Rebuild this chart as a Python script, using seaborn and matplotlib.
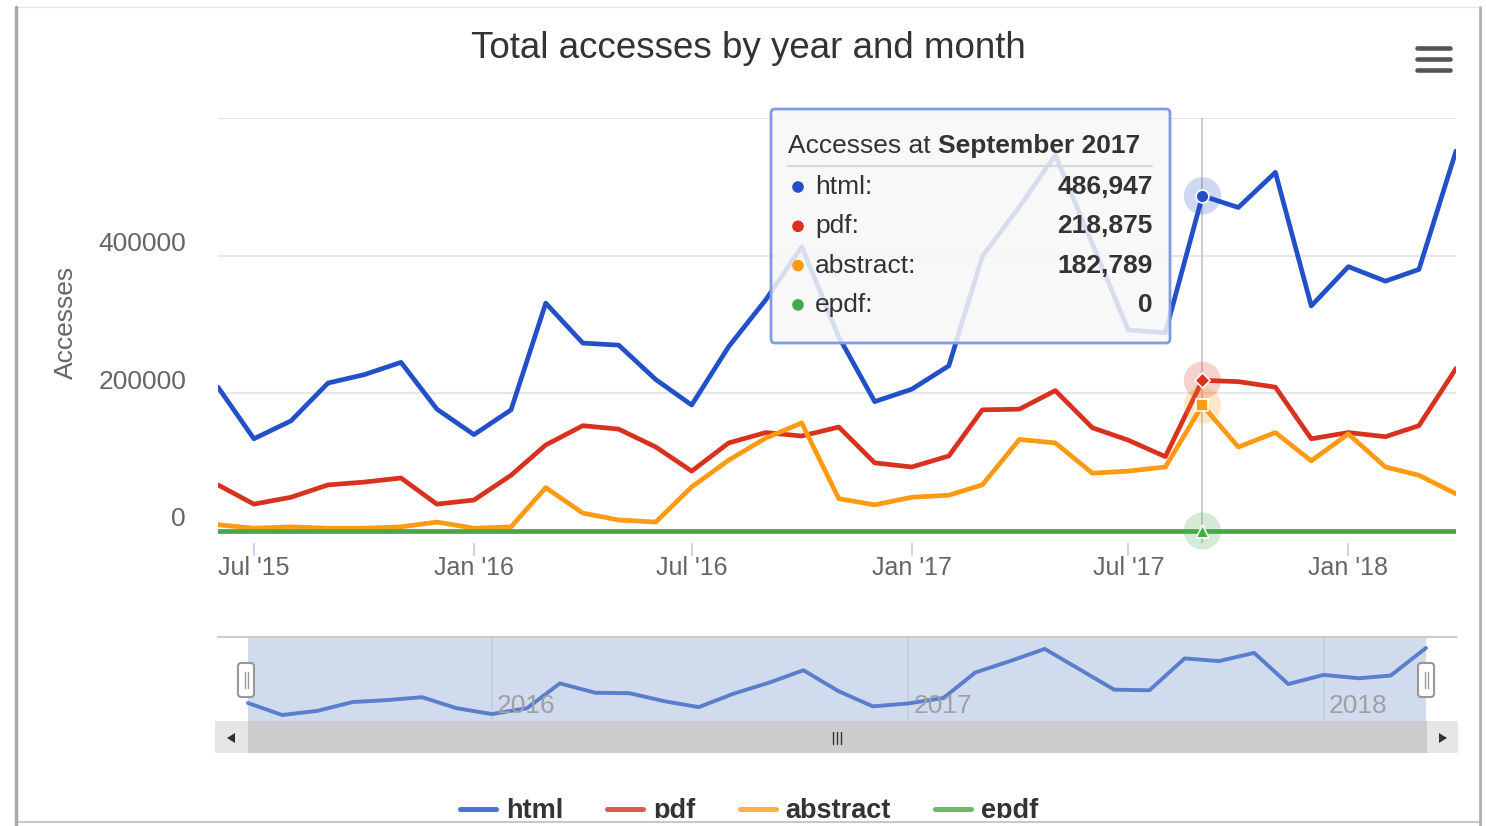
import numpy as np
import pandas as pd
import seaborn as sns
import matplotlib.pyplot as plt
import matplotlib.dates as mdates
from matplotlib.patches import Rectangle, FancyBboxPatch, Polygon
from matplotlib.lines import Line2D
from matplotlib.transforms import ScaledTranslation

# ===== data =====
months = pd.date_range('2015-06-01', '2018-04-01', freq='MS')
html = [209000, 134000, 160000, 215000, 227000, 245000, 177000,
        140000, 176000, 331000, 273000, 270000, 220000, 183000, 268000, 336000, 413000, 282000, 188000,
        206000, 240000, 399000, 471000, 546000, 417000, 292000, 288000, 486947, 470000, 521000, 327000,
        384000, 363000, 380000, 552000]
pdf = [67000, 39000, 49000, 67000, 71000, 77000, 39000,
       45000, 81000, 125000, 153000, 148000, 122000, 87000, 128000, 143000, 138000, 151000, 99000,
       93000, 109000, 176000, 177000, 204000, 150000, 132000, 108000, 218875, 217000, 209000, 134000,
       143000, 137000, 153000, 236000]
abstract = [9000, 4000, 6000, 4000, 4000, 6000, 13000,
            4000, 6000, 63000, 26000, 16000, 13000, 64000, 103000, 135000, 157000, 47000, 38000,
            49000, 52000, 67000, 133000, 128000, 84000, 87000, 93000, 182789, 122000, 143000, 102000,
            141000, 93000, 81000, 54000]
epdf = [0] * 35

series_names = ['html', 'pdf', 'abstract', 'epdf']
colors = {'html': '#2150c8', 'pdf': '#d8321f', 'abstract': '#ff9a12', 'epdf': '#46a846'}
hover_markers = {'html': 'o', 'pdf': 'D', 'abstract': 's', 'epdf': '^'}
hover_month = pd.Timestamp('2017-09-01')
x_ticks = pd.to_datetime(['2015-07-01', '2016-01-01', '2016-07-01', '2017-01-01', '2017-07-01', '2018-01-01'])
nav_years = pd.to_datetime(['2016-01-01', '2017-01-01', '2018-01-01'])
y_ticks = [0, 200000, 400000, 600000]
y_ticklabels = ['0', '200000', '400000', '']

df = pd.DataFrame({'month': months, 'html': html, 'pdf': pdf, 'abstract': abstract, 'epdf': epdf})
long_df = df.melt(id_vars='month', var_name='series', value_name='accesses')

# ===== figure =====
W, H = 1486, 826
sns.set_theme(style='white')
plt.rcParams['font.family'] = ['Liberation Sans', 'DejaVu Sans']

def rect(x0, y0, x1, y1):
    return [x0 / W, 1 - y1 / H, (x1 - x0) / W, (y1 - y0) / H]

fig = plt.figure(figsize=(W / 100, H / 100), dpi=100)
fig.patch.set_facecolor('white')

# background / foreground overlays in pixel coordinates
bg = fig.add_axes([0, 0, 1, 1], zorder=-1)
fg = fig.add_axes([0, 0, 1, 1], zorder=10)
for o in (bg, fg):
    o.set_xlim(0, W)
    o.set_ylim(H, 0)
    o.axis('off')
    o.patch.set_alpha(0)

# main chart
ax = fig.add_axes(rect(218, 118, 1456, 543), zorder=1)
ax.patch.set_alpha(0)
sns.lineplot(data=long_df, x='month', y='accesses', hue='series', hue_order=series_names,
             palette=colors, linewidth=3.4, legend=False, ax=ax,
             solid_joinstyle='round', solid_capstyle='round')
px_per_unit = (531 - 118) / 600000
ax.set_ylim(-(543 - 531) / px_per_unit, 600000)
ax.set_xlim(months[0], months[-1])
for s in ax.spines.values():
    s.set_visible(False)
ax.set_yticks(y_ticks)
ax.set_yticklabels(y_ticklabels)
ax.yaxis.grid(True, color='#e6e6e6', linewidth=1.5)
ax.xaxis.grid(False)
ax.tick_params(axis='y', length=0, pad=23, labelsize=19, labelcolor='#666666')
ax.set_xticks(x_ticks)
ax.set_xticklabels([d.strftime("%b '%y") for d in x_ticks])
ax.tick_params(axis='x', length=9.5, width=1.5, color='#ccd6eb', pad=0, labelsize=18,
               labelcolor='#666666', bottom=True)
offset = ScaledTranslation(0, 0.14, fig.dpi_scale_trans)
for lab in ax.get_yticklabels():
    lab.set_transform(lab.get_transform() + offset)
ax.set_xlabel('')
ax.set_ylabel('Accesses', fontsize=19, color='#666666')
ax.yaxis.set_label_coords((78 - 218) / 1238, 0.52)

# crosshair and hover markers
ax.axvline(hover_month, color='#c8c8c8', linewidth=1.3, zorder=1)
hi = list(months).index(hover_month)
values = {'html': html, 'pdf': pdf, 'abstract': abstract, 'epdf': epdf}
for name in series_names:
    v = values[name][hi]
    ax.scatter([hover_month], [v], s=720, color=colors[name], alpha=0.22, edgecolor='none',
               zorder=5, clip_on=False)
    ax.scatter([hover_month], [v], s=60 if hover_markers[name] == 'D' else 85, marker=hover_markers[name],
               color=colors[name], edgecolor='white', linewidth=1.2, zorder=6, clip_on=False)

fig.text(748 / W, 1 - 49 / H, 'Total accesses by year and month', ha='center', va='center',
         fontsize=26.5, color='#333333')

# navigator
nav = fig.add_axes(rect(218, 637, 1456, 722), zorder=1)
nav.patch.set_alpha(0)
d0, d1 = mdates.date2num(months[0]), mdates.date2num(months[-1])
a, b = (248 - 218) / 1238, (1426 - 218) / 1238
span = (d1 - d0) / (b - a)
nav.set_xlim(d0 - a * span, d0 + (1 - a) * span)
rng = max(html) - min(html)
nav.set_ylim(min(html) - 0.104 * rng, max(html) + 0.163 * rng)
nav.axvspan(d0, d1, color='#d1dbee', zorder=0, linewidth=0)
for yr in nav_years:
    yn = mdates.date2num(yr)
    nav.axvline(yn, color='#c3cde0', linewidth=1.2, zorder=1)
    nav.annotate(yr.strftime('%Y'), xy=(yn, 0.19), xycoords=nav.get_xaxis_transform(),
                 xytext=(4, 0), textcoords='offset points', ha='left', va='center',
                 fontsize=19, color='#a0a0a0')
sns.lineplot(x=mdates.date2num(months), y=html, ax=nav, color='#5a7ecb', linewidth=2.8, legend=False,
             solid_joinstyle='round')
nav.set_xticks([])
nav.set_yticks([])
nav.set_xlabel('')
nav.set_ylabel('')
for k, s in nav.spines.items():
    s.set_visible(k == 'top')
nav.spines['top'].set_color('#cccccc')
nav.spines['top'].set_linewidth(1.5)

# scrollbar
fg.add_patch(Rectangle((215, 721), 1243, 32, fc='#f2f2f2', ec='none'))
fg.add_patch(Rectangle((248, 721), 1179, 32, fc='#cccccc', ec='none'))
fg.add_patch(Rectangle((215, 721), 33, 32, fc='#e6e6e6', ec='none'))
fg.add_patch(Rectangle((1427, 721), 31, 32, fc='#e6e6e6', ec='none'))
fg.add_patch(Polygon([(227, 738), (235, 733), (235, 743)], closed=True, fc='#333333', ec='none'))
fg.add_patch(Polygon([(1447, 738), (1439, 733), (1439, 743)], closed=True, fc='#333333', ec='none'))
for gx in (833, 837, 841):
    fg.plot([gx, gx], [732, 744], color='#333333', linewidth=1)
# navigator handles
for hx in (246, 1426):
    fg.add_patch(FancyBboxPatch((hx - 8, 663), 16, 34, boxstyle='round,pad=0,rounding_size=3',
                                fc='white', ec='#999999', lw=1.5))
    fg.plot([hx - 1.5, hx - 1.5], [672, 688], color='#999999', linewidth=1)
    fg.plot([hx + 1.5, hx + 1.5], [672, 688], color='#999999', linewidth=1)

# tooltip
fg.add_patch(FancyBboxPatch((771, 109), 399, 234, boxstyle='round,pad=0,rounding_size=4',
                            fc=(0.97, 0.97, 0.97, 0.85), ec='#7f9de2', lw=2))
t1 = fg.text(788, 146, 'Accesses at ', fontsize=19, color='#333333', ha='left', va='center')
fg.annotate(hover_month.strftime('%B %Y'), xy=(1, 0.5), xycoords=t1, ha='left', va='center',
            fontsize=19, color='#333333', fontweight='bold')
fg.plot([788, 1152], [166, 166], color='#d8d8d8', linewidth=1.5)
for i, name in enumerate(series_names):
    ry = 187 + i * 39.3
    fg.scatter([798], [ry], s=70, color=colors[name], edgecolor='none')
    fg.text(815, ry, name + ':', fontsize=19, color='#333333', ha='left', va='center')
    fg.text(1153, ry, f'{values[name][hi]:,}', fontsize=19, color='#333333', ha='right',
            va='center', fontweight='bold')

# hamburger menu
for my in (48, 59, 70):
    fg.plot([1417, 1450], [my, my], color='#555555', linewidth=3.3, solid_capstyle='round')

# legend
handles = [Line2D([], [], color=colors[n], linewidth=3.6, alpha=0.8) for n in series_names]
leg = fig.legend(handles, series_names, loc='center', bbox_to_anchor=(749 / W, 1 - 811 / H), ncol=4,
                 frameon=False, handlelength=1.33, handletextpad=0.37, columnspacing=1.63,
                 prop={'size': 19.5, 'weight': 'bold'})
for t in leg.get_texts():
    t.set_color('#333333')

# card edges (the legend is cut by the bottom of the card)
fg.add_patch(Rectangle((0, 818), W, H - 818, fc='white', ec='none'))
fg.plot([17, 1479], [7, 7], color='#e6e6e6', linewidth=1)
fg.plot([17, 1479], [822, 822], color='#c8c8c8', linewidth=1.5)
fg.plot([16, 16], [7, 826], color='#a8a8a8', linewidth=2.5)
fg.plot([1480, 1480], [7, 826], color='#b0b0b0', linewidth=2)

fig.savefig('out.png', dpi=100)
